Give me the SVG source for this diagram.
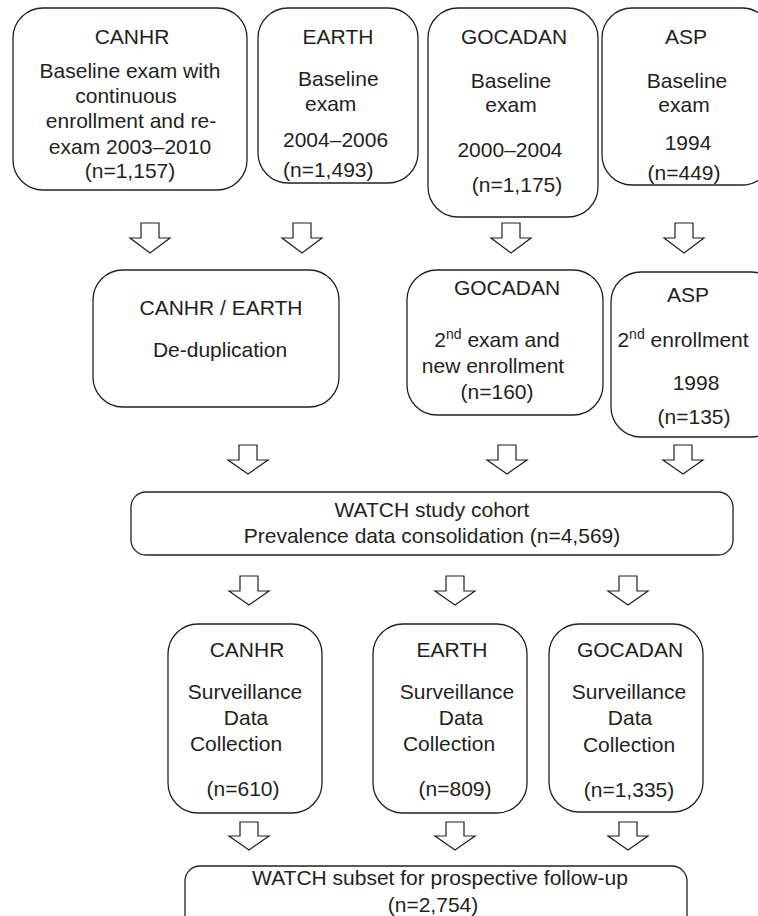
<svg xmlns="http://www.w3.org/2000/svg" width="758" height="916" viewBox="0 0 758 916">
<style>
  .box { fill: #ffffff; stroke: #231f20; stroke-width: 1.3; }
  .arr { fill: #ffffff; stroke: #231f20; stroke-width: 1.2; stroke-linejoin: miter; }
  text { font-family: "Liberation Sans", Arial, sans-serif; font-size: 21px; fill: #231f20; text-anchor: middle; }
  .st { text-anchor: start; }
  .sup { font-size: 14px; }
</style>
<rect width="758" height="916" fill="#ffffff"/>

<g id="connectors">
  <!-- row 1 arrows -->
  <path class="arr" d="M141,223 H159 V238 H170 L150,253 L130,238 H141 Z"/>
  <path class="arr" d="M293,223 H311 V238 H322 L302,253 L282,238 H293 Z"/>
  <path class="arr" d="M502,223 H520 V238 H531 L511,253 L491,238 H502 Z"/>
  <path class="arr" d="M675,223 H693 V238 H704 L684,253 L664,238 H675 Z"/>
  <!-- row 2 arrows -->
  <path class="arr" d="M239,445 H257 V460 H268 L248,474 L228,460 H239 Z"/>
  <path class="arr" d="M498,445 H516 V460 H527 L507,474 L487,460 H498 Z"/>
  <path class="arr" d="M674,445 H692 V460 H703 L683,474 L663,460 H674 Z"/>
  <!-- row 3 arrows -->
  <path class="arr" d="M240,576 H258 V591 H269 L249,605 L229,591 H240 Z"/>
  <path class="arr" d="M446,576 H464 V591 H475 L455,605 L435,591 H446 Z"/>
  <path class="arr" d="M619,576 H637 V591 H648 L628,605 L608,591 H619 Z"/>
  <!-- row 4 arrows -->
  <path class="arr" d="M240,822 H258 V836 H269 L249,850 L229,836 H240 Z"/>
  <path class="arr" d="M446,822 H464 V836 H475 L455,850 L435,836 H446 Z"/>
  <path class="arr" d="M619,822 H637 V836 H648 L628,850 L608,836 H619 Z"/>
</g>

<g id="canhr-baseline">
  <rect class="box" x="13" y="8" width="234" height="182" rx="30" ry="30"/>
  <text x="132" y="44">CANHR</text>
  <text x="130" y="78">Baseline exam with</text>
  <text x="126" y="103">continuous</text>
  <text x="131" y="128">enrollment and re-</text>
  <text x="130" y="154">exam 2003–2010</text>
  <text x="130" y="178">(n=1,157)</text>
</g>

<g id="earth-baseline">
  <rect class="box" x="258" y="8" width="160" height="175" rx="30" ry="30"/>
  <text x="338" y="44">EARTH</text>
  <text class="st" x="298" y="86">Baseline</text>
  <text class="st" x="305" y="111">exam</text>
  <text class="st" x="283" y="147">2004–2006</text>
  <text class="st" x="283" y="177">(n=1,493)</text>
</g>

<g id="gocadan-baseline">
  <rect class="box" x="428" y="8" width="170" height="209" rx="30" ry="30"/>
  <text x="514" y="44">GOCADAN</text>
  <text x="511" y="88">Baseline</text>
  <text x="511" y="112">exam</text>
  <text x="510" y="157">2000–2004</text>
  <text x="517" y="192">(n=1,175)</text>
</g>

<g id="asp-baseline">
  <rect class="box" x="602" y="8" width="170" height="177" rx="30" ry="30"/>
  <text x="686" y="44">ASP</text>
  <text x="687" y="88">Baseline</text>
  <text x="684" y="112">exam</text>
  <text x="688" y="150">1994</text>
  <text x="684" y="180">(n=449)</text>
</g>

<g id="canhr-earth-dedup">
  <rect class="box" x="93" y="270" width="246" height="137" rx="30" ry="30"/>
  <text x="221" y="315">CANHR / EARTH</text>
  <text x="220" y="357">De-duplication</text>
</g>

<g id="gocadan-second">
  <rect class="box" x="407" y="270" width="196" height="145" rx="30" ry="30"/>
  <text x="507" y="295">GOCADAN</text>
  <text x="497" y="347">2<tspan class="sup" dy="-8">nd</tspan><tspan dy="8"> exam and</tspan></text>
  <text x="493" y="373">new enrollment</text>
  <text x="497" y="399">(n=160)</text>
</g>

<g id="asp-second">
  <rect class="box" x="611" y="272" width="170" height="165" rx="30" ry="30"/>
  <text x="688" y="302">ASP</text>
  <text x="683" y="347">2<tspan class="sup" dy="-8">nd</tspan><tspan dy="8"> enrollment</tspan></text>
  <text x="696" y="390">1998</text>
  <text x="694" y="424">(n=135)</text>
</g>

<g id="watch-cohort">
  <rect class="box" x="131" y="492" width="602" height="63" rx="15" ry="15"/>
  <text x="432" y="517">WATCH study cohort</text>
  <text x="432" y="543">Prevalence data consolidation (n=4,569)</text>
</g>

<g id="canhr-surveillance">
  <rect class="box" x="168" y="624" width="154" height="189" rx="30" ry="30"/>
  <text x="247" y="657">CANHR</text>
  <text x="245" y="699">Surveillance</text>
  <text x="246" y="725">Data</text>
  <text x="236" y="751">Collection</text>
  <text x="243" y="796">(n=610)</text>
</g>

<g id="earth-surveillance">
  <rect class="box" x="373" y="624" width="154" height="189" rx="30" ry="30"/>
  <text x="452" y="657">EARTH</text>
  <text x="457" y="699">Surveillance</text>
  <text x="461" y="725">Data</text>
  <text x="449" y="751">Collection</text>
  <text x="455" y="796">(n=809)</text>
</g>

<g id="gocadan-surveillance">
  <rect class="box" x="549" y="624" width="154" height="188" rx="30" ry="30"/>
  <text x="630" y="657">GOCADAN</text>
  <text x="629" y="699">Surveillance</text>
  <text x="630" y="725">Data</text>
  <text x="629" y="752">Collection</text>
  <text x="629" y="797">(n=1,335)</text>
</g>

<g id="watch-subset">
  <rect class="box" x="185" y="866" width="502" height="70" rx="15" ry="15"/>
  <text x="440" y="885">WATCH subset for prospective follow-up</text>
  <text x="433" y="912">(n=2,754)</text>
</g>
</svg>
